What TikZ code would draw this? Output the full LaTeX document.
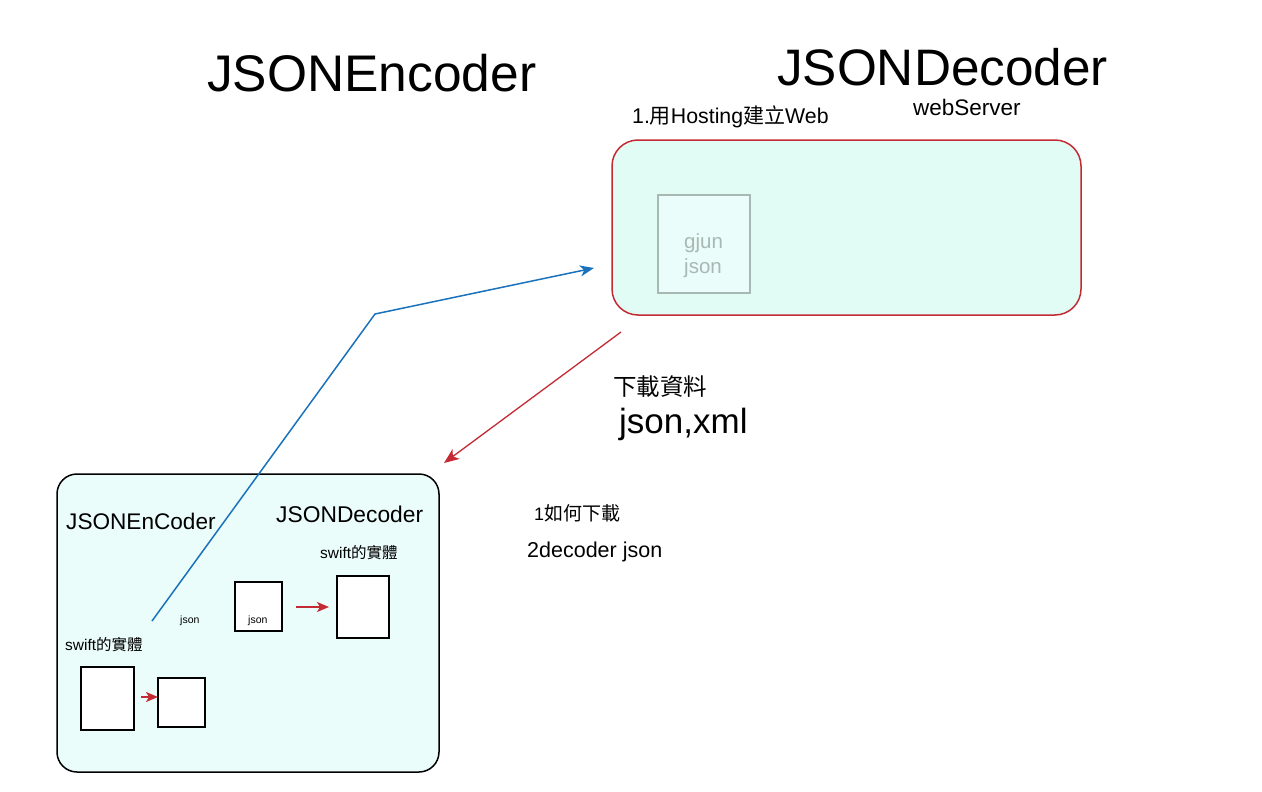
\documentclass[tikz,border=0pt]{standalone}
\usepackage{fontspec}
\setmainfont{Liberation Sans}
\newfontfamily\cjk{Noto Sans CJK TC}
\usetikzlibrary{arrows.meta}
\definecolor{boxred}{HTML}{C42A34}
\definecolor{mint}{HTML}{E0FCF4}
\definecolor{mintlight}{HTML}{EBFDFA}
\definecolor{arrblue}{HTML}{1A72BD}
\definecolor{grayline}{HTML}{A8B8B2}
\begin{document}
\begin{tikzpicture}[x=1pt,y=-1pt,
  txt/.style={inner sep=0pt, anchor=base west, text=black},
  whitebox/.style={draw=black, line width=1.8pt, fill=white},
  redarr/.style={draw=boxred, line width=1.3pt, -{Stealth[length=15pt,width=12pt,inset=4pt]}},
  smallarr/.style={draw=boxred, line width=1.6pt, -{Stealth[length=12pt,width=10pt,inset=3pt]}},
  bluearr/.style={draw=arrblue, line width=1.5pt, -{Stealth[length=14pt,width=11pt,inset=4pt]}}]
\useasboundingbox[fill=white] (0,0) rectangle (1262,792);
% titles
\node[txt, font=\fontsize{51.5}{55}\selectfont] (t1) at (207,92) {JSONEncoder};
\node[txt, font=\fontsize{51.3}{55}\selectfont] (t2) at (777,86) {JSONDecoder};
\node[txt, font=\fontsize{21.3}{24}\selectfont] (host) at (632,123) {1.{\cjk\fontsize{21}{24}\selectfont 用}Hosting{\cjk\fontsize{21}{24}\selectfont 建立}Web};
\node[txt, font=\fontsize{22.5}{24}\selectfont] (ws) at (913,115) {webServer};
% server box
\draw[draw=boxred, line width=1.5pt, fill=mint, rounded corners=26pt] (612,140) rectangle (1081,315);
\node[draw=grayline, line width=1.5pt, fill=mintlight, minimum width=92pt, minimum height=98pt, inner sep=0pt] (gj) at (704,244) {};
\node[txt, text=grayline, font=\fontsize{20.5}{22}\selectfont] (gjt1) at (684,248) {gjun};
\node[txt, text=grayline, font=\fontsize{20.5}{22}\selectfont] (gjt2) at (684,273) {json};
% texts middle
\node[txt, font=\fontsize{23.5}{26}\selectfont\cjk] (dl) at (613,395) {下載資料};
\node[txt, font=\fontsize{35}{38}\selectfont] (jx) at (619,433) {json,xml};
\node[txt, font=\fontsize{18}{20}\selectfont] (how) at (534,520) {1{\cjk\fontsize{19}{20}\selectfont 如何下載}};
\node[txt, font=\fontsize{21.5}{24}\selectfont] (dec) at (527,557) {2decoder json};
% client box
\draw[draw=black, line width=1.5pt, fill=mintlight, rounded corners=20pt] (57,474) rectangle (439,772);
\node[txt, font=\fontsize{22.6}{26}\selectfont] (enc) at (66,529) {JSONEnCoder};
\node[txt, font=\fontsize{22.8}{26}\selectfont] (decs) at (276,522) {JSONDecoder};
\node[txt, font=\fontsize{15.5}{18}\selectfont] (sw1) at (320,558) {swift{\cjk 的實體}};
\node[txt, font=\fontsize{15.5}{18}\selectfont] (sw2) at (65,650) {swift{\cjk 的實體}};
\node[txt, font=\fontsize{10.5}{12}\selectfont] (js1) at (180,623) {json};
\node[whitebox, minimum width=47pt, minimum height=49pt, inner sep=0pt] (b1) at (258.5,606.5) {};
\node[txt, font=\fontsize{10.5}{12}\selectfont] (js2) at (248,623) {json};
\node[whitebox, minimum width=52pt, minimum height=62pt, inner sep=0pt] (b2) at (363,607) {};
\node[whitebox, minimum width=53pt, minimum height=63pt, inner sep=0pt] (b3) at (107.5,698.5) {};
\node[whitebox, minimum width=47pt, minimum height=49pt, inner sep=0pt] (b4) at (181.5,702.5) {};
% arrows
\coordinate (bs) at (152,621);
\coordinate (bm) at (375,314);
\coordinate (be) at (594,268);
\draw[bluearr] (bs) -- (bm) -- (be);
\coordinate (rs) at (621,332);
\coordinate (re) at (444,463);
\draw[redarr] (rs) -- (re);
\coordinate (a1s) at (296,607);
\coordinate (a1e) at (329,607);
\draw[smallarr] (a1s) -- (a1e);
\coordinate (a2s) at (141,697);
\coordinate (a2e) at (158,697);
\draw[smallarr] (a2s) -- (a2e);
\end{tikzpicture}
\end{document}
